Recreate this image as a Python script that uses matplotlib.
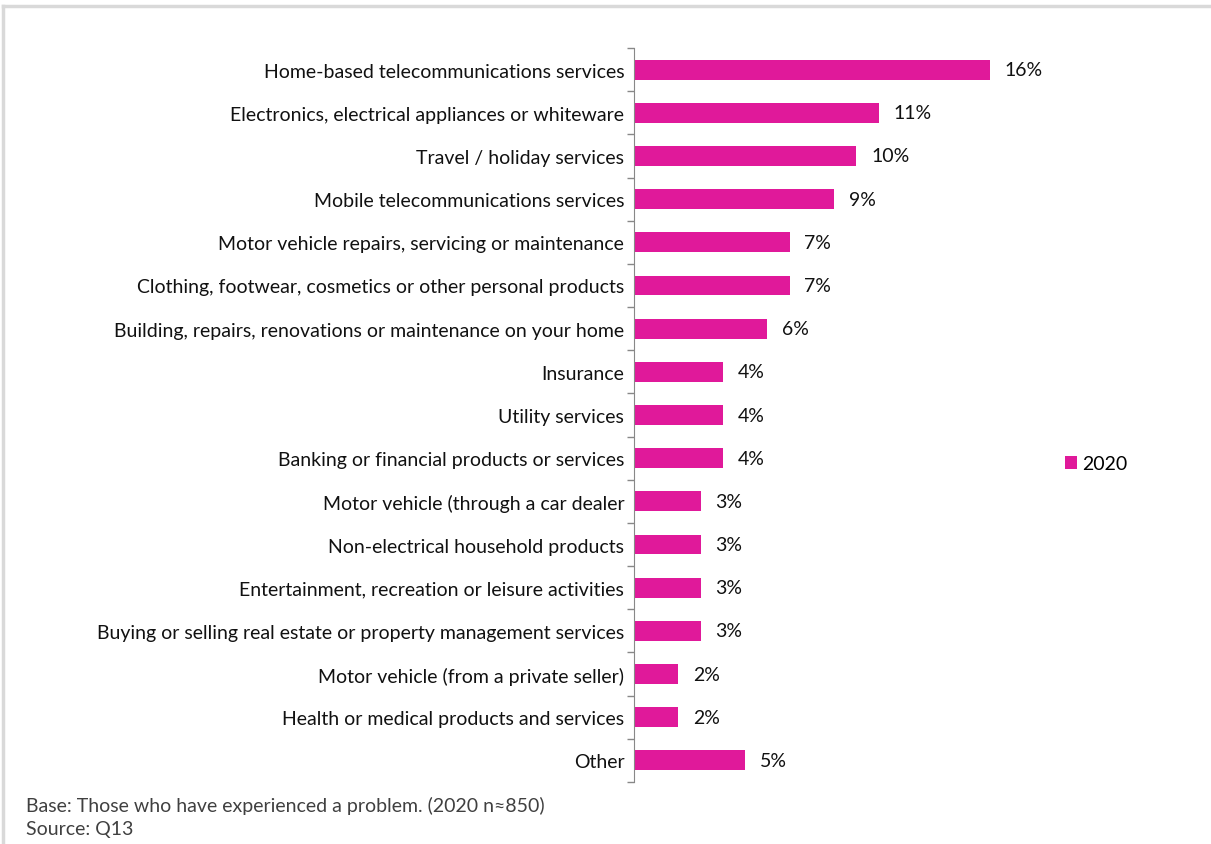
import matplotlib.pyplot as plt
from matplotlib.lines import Line2D

categories = [
    'Home-based telecommunications services',
    'Electronics, electrical appliances or whiteware',
    'Travel / holiday services',
    'Mobile telecommunications services',
    'Motor vehicle repairs, servicing or maintenance',
    'Clothing, footwear, cosmetics or other personal products',
    'Building, repairs, renovations or maintenance on your home',
    'Insurance',
    'Utility services',
    'Banking or financial products or services',
    'Motor vehicle (through a car dealer',
    'Non-electrical household products',
    'Entertainment, recreation or leisure activities',
    'Buying or selling real estate or property management services',
    'Motor vehicle (from a private seller)',
    'Health or medical products and services',
    'Other',
]
values_2020 = [16, 11, 10, 9, 7, 7, 6, 4, 4, 4, 3, 3, 3, 3, 2, 2, 5]
series_name = '2020'
footnote = ['Base: Those who have experienced a problem. (2020 n\u2248850)', 'Source: Q13']

pink = '#E0199A'
plt.rcParams['font.family'] = ['Lato', 'DejaVu Sans']

W, H = 1211, 845
fig = plt.figure(figsize=(W / 100, H / 100), dpi=100)

# axes box in pixels: x 634..1034, y 49..783
top, bot = 49, 783
ax = fig.add_axes([634 / W, 1 - bot / H, 400 / W, (bot - top) / H])
n = len(categories)
ypos = list(range(n))
ax.barh(ypos, values_2020, height=0.46, color=pink, label=series_name)
ax.set_ylim(n - 0.5, -0.5)
ax.set_xlim(0, 400 / 22.25)

for y, v in zip(ypos, values_2020):
    ax.annotate(f'{v}%', (v, y), xytext=(10.5, 0), textcoords='offset points',
                ha='left', va='center', fontsize=14, color='#111111')

ax.set_yticks(ypos)
ax.set_yticklabels(categories, fontsize=14, color='#111111')
ax.tick_params(axis='y', length=0, pad=7)
ax.set_yticks([i - 0.5 for i in range(n + 1)], minor=True)
ax.tick_params(axis='y', which='minor', length=5, width=1, color='#888888')
ax.set_xticks([])
for s in ['top', 'right', 'bottom']:
    ax.spines[s].set_visible(False)
ax.spines['left'].set_color('#888888')

ax.legend(loc='center left', bbox_to_anchor=((1057 - 634) / 400, (bot - 465) / (bot - top)),
          frameon=False, fontsize=14, handlelength=0.65, handleheight=0.65,
          handletextpad=0.25, borderaxespad=0)

fig.text(26 / W, 1 - 806 / H, footnote[0], fontsize=14, color='#404040', va='center')
fig.text(26 / W, 1 - 830 / H, footnote[1], fontsize=14, color='#404040', va='center')

# light frame along top and left edges
fig.add_artist(Line2D([3 / W, 1], [1 - 7 / H, 1 - 7 / H], color='#d9d9d9', lw=2.5))
fig.add_artist(Line2D([3 / W, 3 / W], [0, 1 - 7 / H], color='#d9d9d9', lw=2.5))

fig.savefig('out.png', dpi=100)
